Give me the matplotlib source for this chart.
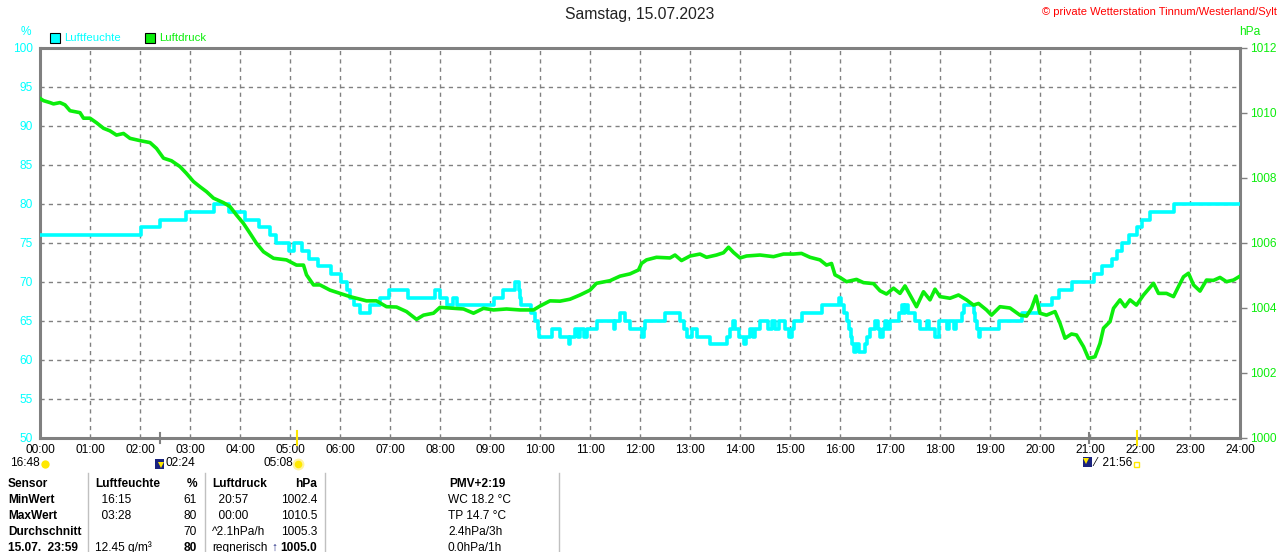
import matplotlib
matplotlib.use("Agg")
import matplotlib.pyplot as plt
from matplotlib.patches import Rectangle

plt.rcParams['font.family'] = ['Liberation Sans', 'DejaVu Sans']

# ---------------- data ----------------
hum_t = [0.0, 2.02, 2.4, 2.91, 3.47, 3.77, 4.1, 4.37, 4.59, 4.72, 4.97, 5.07, 5.23, 5.37, 5.55,
         5.82, 6.02, 6.13, 6.2, 6.27, 6.4, 6.6, 6.8, 6.97, 7.35, 7.9, 8.0, 8.13, 8.25, 8.33,
         9.07, 9.25, 9.5, 9.58, 9.6, 9.62, 9.82, 9.9, 9.95, 9.97, 10.23, 10.4, 10.57, 10.6,
         10.7, 10.75, 10.8, 10.87, 10.93, 11.13, 11.47, 11.5, 11.6, 11.7, 11.8, 12.03, 12.07,
         12.1, 12.5, 12.8, 12.87, 12.93, 13.03, 13.13, 13.4, 13.73, 13.8, 13.85, 13.9, 13.97,
         14.07, 14.12, 14.2, 14.25, 14.3, 14.39, 14.55, 14.63, 14.7, 14.77, 14.9, 14.97, 15.03,
         15.07, 15.23, 15.63, 15.97, 16.02, 16.08, 16.13, 16.18, 16.21, 16.24, 16.27, 16.33,
         16.37, 16.5, 16.53, 16.59, 16.7, 16.75, 16.8, 16.85, 16.9, 16.93, 17.0, 17.17, 17.23,
         17.27, 17.3, 17.35, 17.5, 17.6, 17.73, 17.77, 17.9, 17.97, 18.13, 18.17, 18.27, 18.33,
         18.43, 18.47, 18.67, 18.7, 18.73, 18.77, 18.8, 19.17, 19.63, 19.97, 20.23, 20.37,
         20.63, 21.07, 21.23, 21.43, 21.53, 21.63, 21.77, 21.93, 22.03, 22.2, 22.67, 24.0]
hum_v = [76, 77, 78, 79, 80, 79, 78, 77, 76, 75, 74, 75, 74, 73, 72,
         71, 70, 69, 68, 67, 66, 67, 68, 69, 68, 69, 68, 67, 68, 67,
         68, 69, 70, 69, 68, 67, 66, 65, 64, 63, 64, 63, 62, 63,
         64, 63, 64, 63, 64, 65, 64, 65, 66, 65, 64, 63, 64,
         65, 66, 65, 64, 63, 64, 63, 62, 63, 64, 65, 64, 63,
         62, 63, 64, 63, 64, 65, 64, 65, 64, 65, 64, 63, 64,
         65, 66, 67, 68, 67, 66, 65, 64, 63, 62, 61, 62,
         61, 62, 63, 64, 65, 64, 63, 64, 65, 64, 65, 66, 67,
         66, 67, 66, 65, 64, 65, 64, 63, 65, 64, 65, 64, 65,
         66, 67, 66, 65, 64, 63, 64, 65, 66, 67, 68, 69,
         70, 71, 72, 73, 74, 75, 76, 77, 78, 79, 80, 80]

p_t = [0.0, 0.07, 0.2, 0.27, 0.4, 0.5, 0.6, 0.8, 0.87, 1.0, 1.13, 1.27, 1.4, 1.53, 1.67, 1.8,
       2.0, 2.2, 2.33, 2.47, 2.63, 2.8, 2.93, 3.07, 3.2, 3.33, 3.47, 3.67, 3.8, 3.93, 4.07,
       4.2, 4.33, 4.47, 4.67, 4.93, 5.13, 5.27, 5.33, 5.47, 5.6, 5.8, 6.0, 6.2, 6.33, 6.53,
       6.73, 6.93, 7.13, 7.33, 7.53, 7.67, 7.87, 8.0, 8.27, 8.47, 8.67, 8.87, 9.07, 9.33,
       9.6, 9.87, 10.0, 10.2, 10.4, 10.6, 10.8, 11.0, 11.13, 11.4, 11.6, 11.8, 11.97, 12.03,
       12.13, 12.33, 12.6, 12.7, 12.83, 13.0, 13.2, 13.33, 13.53, 13.67, 13.77, 13.87, 14.0,
       14.13, 14.4, 14.67, 14.87, 15.07, 15.23, 15.4, 15.6, 15.73, 15.83, 15.9, 16.0, 16.13,
       16.33, 16.47, 16.67, 16.8, 16.93, 17.07, 17.2, 17.3, 17.4, 17.53, 17.67, 17.8, 17.9,
       18.0, 18.2, 18.37, 18.53, 18.67, 18.77, 18.93, 19.03, 19.2, 19.4, 19.6, 19.73, 19.83,
       19.92, 20.0, 20.13, 20.3, 20.4, 20.5, 20.63, 20.73, 20.87, 20.97, 21.1, 21.2, 21.27,
       21.4, 21.47, 21.6, 21.7, 21.8, 21.93, 22.07, 22.27, 22.37, 22.53, 22.67, 22.77, 22.87,
       22.97, 23.07, 23.2, 23.33, 23.47, 23.6, 23.73, 23.87, 24.0]
p_v = [1010.45, 1010.38, 1010.32, 1010.28, 1010.32, 1010.25, 1010.07, 1010.01, 1009.84, 1009.84,
       1009.70, 1009.53, 1009.45, 1009.32, 1009.37, 1009.22, 1009.15, 1009.09, 1008.91, 1008.61,
       1008.53, 1008.35, 1008.14, 1007.89, 1007.73, 1007.58, 1007.38, 1007.24, 1007.12, 1006.86,
       1006.60, 1006.30, 1005.99, 1005.73, 1005.53, 1005.48, 1005.32, 1005.32, 1005.02, 1004.71,
       1004.71, 1004.55, 1004.45, 1004.35, 1004.30, 1004.22, 1004.22, 1004.04, 1004.03, 1003.89,
       1003.65, 1003.78, 1003.84, 1004.02, 1003.99, 1003.97, 1003.84, 1003.99, 1003.94, 1003.97,
       1003.94, 1003.94, 1004.06, 1004.22, 1004.21, 1004.27, 1004.40, 1004.55, 1004.76, 1004.84,
       1004.98, 1005.05, 1005.17, 1005.37, 1005.48, 1005.56, 1005.54, 1005.63, 1005.46, 1005.60,
       1005.66, 1005.56, 1005.63, 1005.70, 1005.87, 1005.71, 1005.54, 1005.60, 1005.63, 1005.58,
       1005.66, 1005.66, 1005.68, 1005.56, 1005.48, 1005.32, 1005.37, 1005.02, 1004.94, 1004.81,
       1004.88, 1004.78, 1004.75, 1004.53, 1004.43, 1004.61, 1004.45, 1004.68, 1004.40, 1004.04,
       1004.50, 1004.25, 1004.58, 1004.35, 1004.30, 1004.40, 1004.25, 1004.09, 1004.14, 1003.94,
       1003.78, 1004.04, 1004.00, 1003.78, 1003.75, 1003.99, 1004.37, 1003.84, 1003.78, 1003.89,
       1003.53, 1003.07, 1003.20, 1003.17, 1002.81, 1002.45, 1002.50, 1002.91, 1003.38, 1003.58,
       1003.99, 1004.25, 1004.04, 1004.25, 1004.09, 1004.40, 1004.76, 1004.45, 1004.45, 1004.35,
       1004.66, 1004.96, 1005.07, 1004.71, 1004.52, 1004.86, 1004.85, 1004.94, 1004.81, 1004.86,
       1004.98]

hour_labels = ["%02d:00" % h for h in range(25)]
hum_ticks = [50, 55, 60, 65, 70, 75, 80, 85, 90, 95, 100]
p_ticks = [1000, 1002, 1004, 1006, 1008, 1010, 1012]

table_rows = [
    ["Sensor", "Luftfeuchte", "%", "Luftdruck", "hPa", "PMV+2:19"],
    ["MinWert", "  16:15", "61", "  20:57", "1002.4", "WC 18.2 °C"],
    ["MaxWert", "  03:28", "80", "  00:00", "1010.5", "TP 14.7 °C"],
    ["Durchschnitt", "", "70", "^2.1hPa/h", "1005.3", "2.4hPa/3h"],
    ["15.07.  23:59", "12.45 g/m³", "80", "regnerisch", "1005.0", "0.0hPa/1h"],
]

CYAN = "#00FFFF"
GREEN = "#0CEE0C"
GRAY = "#808080"
SUN = "#FFE800"
NAVY = "#1A237E"

W, H = 1280, 552
fig = plt.figure(figsize=(W / 100, H / 100), dpi=100)
fig.patch.set_facecolor("white")

def fx(x):
    return x / W

def fy(y):
    return 1 - y / H

L, R, T, B = 40, 1240, 48, 438
ax = fig.add_axes([fx(L), fy(B), (R - L) / W, (B - T) / H])
ax.set_xlim(0, 24)
ax.set_ylim(50, 100)
ax.set_xticks(range(25))
ax.set_xticklabels(hour_labels, fontsize=8.6, color="black")
ax.set_yticks(hum_ticks)
ax.set_yticklabels([str(v) for v in hum_ticks], fontsize=8.6, color=CYAN)
ax.tick_params(axis='x', length=0, pad=4)
ax.tick_params(axis='y', length=0, pad=5)
ax.grid(True, color=GRAY, linestyle=(0, (3, 3)), linewidth=1.0)
for s in ax.spines.values():
    s.set_color(GRAY)
    s.set_linewidth(2.2)

ax2 = ax.twinx()
ax2.set_ylim(1000, 1012)
ax2.set_yticks(p_ticks)
ax2.set_yticklabels([str(v) for v in p_ticks], fontsize=8.6, color=GREEN)
ax2.tick_params(axis='y', length=5, width=1, color=GRAY, pad=2)
for s in ax2.spines.values():
    s.set_visible(False)

ax.step(hum_t, hum_v, where='post', color=CYAN, linewidth=2.6, zorder=3)
ax2.plot(p_t, p_v, color=GREEN, linewidth=2.6, zorder=4)

# sun / moon markers on the time axis
for xh, c, y0, y1 in [(2.4, GRAY, 433, 443), (5.13, SUN, 431, 445),
                      (20.98, GRAY, 433, 443), (21.93, SUN, 431, 445)]:
    xp = L + xh * 50
    fig.add_artist(plt.Line2D([fx(xp), fx(xp)], [fy(y0), fy(y1)], color=c, lw=1.5))

# title and copyright
fig.text(0.5, fy(15), "Samstag, 15.07.2023", ha='center', va='center', fontsize=11.3, color="#222222")
fig.text(fx(1277), fy(12), "© private Wetterstation Tinnum/Westerland/Sylt", ha='right', va='center',
         fontsize=8.0, color="#FF0000")
fig.text(fx(26), fy(32), "%", ha='center', va='center', fontsize=8.6, color=CYAN)
fig.text(fx(1250), fy(32), "hPa", ha='center', va='center', fontsize=8.6, color=GREEN)

# legend
for x0, col, lab in [(50, CYAN, "Luftfeuchte"), (145, GREEN, "Luftdruck")]:
    fig.add_artist(Rectangle((fx(x0), fy(43)), 10 / W, 10 / H, facecolor=col, edgecolor="black", lw=0.8))
    fig.text(fx(x0 + 14), fy(38), lab, ha='left', va='center', fontsize=8.2, color=col)

# sunrise / moon info row
fig.text(fx(10), fy(463), "16:48", ha='left', va='center', fontsize=8.6)
fig.add_artist(plt.Line2D([fx(45)], [fy(464)], marker='o', markersize=6, color=SUN, markeredgewidth=0))
fig.add_artist(Rectangle((fx(155), fy(469)), 9 / W, 10 / H, facecolor=NAVY, edgecolor="none"))
fig.add_artist(plt.Line2D([fx(161)], [fy(465)], marker='v', markersize=4, color=SUN, markeredgewidth=0))
fig.text(fx(166), fy(463), "02:24", ha='left', va='center', fontsize=8.6)
fig.text(fx(264), fy(463), "05:08", ha='left', va='center', fontsize=8.6)
fig.add_artist(plt.Line2D([fx(298)], [fy(464)], marker='o', markersize=7, color=SUN,
                          markeredgecolor="#FFF3A0", markeredgewidth=1.5))
fig.add_artist(Rectangle((fx(1083), fy(467)), 9 / W, 10 / H, facecolor=NAVY, edgecolor="none"))
fig.add_artist(plt.Line2D([fx(1086)], [fy(461)], marker='v', markersize=4, color=SUN, markeredgewidth=0))
fig.text(fx(1094), fy(463), "⁄  21:56", ha='left', va='center', fontsize=8.6)
fig.add_artist(Rectangle((fx(1134), fy(467)), 5 / W, 5 / H, facecolor="white", edgecolor=SUN, lw=1))

# table
row_y = [484, 500, 516, 532, 548]
for xs in [88, 205, 325, 559]:
    fig.add_artist(plt.Line2D([fx(xs), fx(xs)], [fy(473), fy(552)], color="#C0C0C0", lw=1))
for i, row in enumerate(table_rows):
    y = fy(row_y[i])
    hdr = 'bold' if i == 0 else 'normal'
    val_w = 'bold' if i in (0, 4) else 'normal'
    fig.text(fx(8), y, row[0], ha='left', va='center', fontsize=8.6, fontweight='bold')
    fig.text(fx(95), y, row[1], ha='left', va='center', fontsize=8.6, fontweight=hdr)
    fig.text(fx(197), y, row[2], ha='right', va='center', fontsize=8.6, fontweight=val_w)
    fig.text(fx(212), y, row[3], ha='left', va='center', fontsize=8.6, fontweight=hdr)
    fig.text(fx(317), y, row[4], ha='right', va='center', fontsize=8.6, fontweight=val_w)
    if i == 0:
        fig.text(fx(477), y, row[5], ha='center', va='center', fontsize=8.6, fontweight='bold')
    else:
        fig.text(fx(448), y, row[5], ha='left', va='center', fontsize=8.6)
fig.text(fx(271), fy(548), "↑", ha='left', va='center', fontsize=8.6, fontweight='bold', color=NAVY)

fig.savefig("out.png", dpi=100, facecolor="white")
